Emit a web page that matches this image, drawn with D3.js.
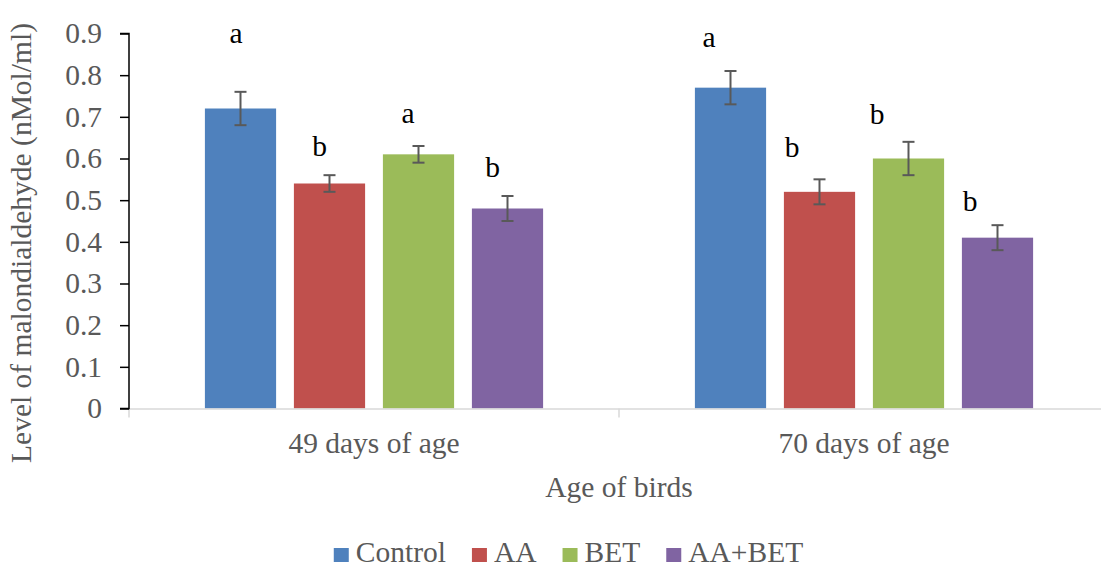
<!DOCTYPE html>
<html>
<head>
<meta charset="utf-8">
<script src="https://cdn.jsdelivr.net/npm/d3@7/dist/d3.min.js"></script>
<style>
  html, body { margin: 0; padding: 0; background: #ffffff; }
  svg { display: block; }
  svg text { font-family: "Liberation Serif", "Times New Roman", serif; }
</style>
</head>
<body>
<svg id="chart" width="1101" height="569"></svg>
<script>
// Malondialdehyde level by age and treatment
const groups = ["49 days of age", "70 days of age"];
const series = ["Control", "AA", "BET", "AA+BET"];
const colors = ["#4F81BD", "#C0504D", "#9BBB59", "#8064A2"];

// mean values per series, one entry per age group
const controlValues = [0.72, 0.77];
const aaValues      = [0.54, 0.52];
const betValues     = [0.61, 0.60];
const aaBetValues   = [0.48, 0.41];

// error bar half-widths
const controlErr = [0.04, 0.04];
const aaErr      = [0.02, 0.03];
const betErr     = [0.02, 0.04];
const aaBetErr   = [0.03, 0.03];

// significance letters
const controlLetters = ["a", "a"];
const aaLetters      = ["b", "b"];
const betLetters     = ["a", "b"];
const aaBetLetters   = ["b", "b"];

const yTicks = [0, 0.1, 0.2, 0.3, 0.4, 0.5, 0.6, 0.7, 0.8, 0.9];
const yTitle = "Level of malondialdehyde (nMol/ml)";
const xTitle = "Age of birds";

const valuesBySeries  = [controlValues, aaValues, betValues, aaBetValues];
const errBySeries     = [controlErr, aaErr, betErr, aaBetErr];
const lettersBySeries = [controlLetters, aaLetters, betLetters, aaBetLetters];

const rows = [];
groups.forEach((g, gi) => {
  series.forEach((s, si) => {
    rows.push({
      group: g, series: s, gi, si,
      value: valuesBySeries[si][gi],
      err: errBySeries[si][gi],
      letter: lettersBySeries[si][gi]
    });
  });
});

// hand placement of letters: [dx from bar centre, dy above error bar top]
const letterNudge = [
  [[-4.5, -49], [-10, -19], [-10.5, -23], [-15, -19]],
  [[-21.5, -24], [-27.5, -22], [-31.5, -18], [-27.5, -14]]
];

const svg = d3.select("#chart");
const plotLeft = 129, plotRight = 1109, plotTop = 33.5, plotBottom = 408.5;
const textGray = "#595959";
const fontSize = 29.5;

const x0 = d3.scaleBand().domain(groups).range([plotLeft, plotRight]).padding(0);
const x1 = d3.scaleBand().domain(series).range([-178, 178]).paddingInner(0.2).paddingOuter(0.1);
const y = d3.scaleLinear().domain([0, 0.9]).range([plotBottom, plotTop]);
const color = d3.scaleOrdinal().domain(series).range(colors);

const barX = d => x0(d.group) + x0.bandwidth() / 2 + x1(d.series);
const barCx = d => barX(d) + x1.bandwidth() / 2;

// bars
svg.append("g").selectAll("rect")
  .data(rows).join("rect")
  .attr("x", barX)
  .attr("y", d => y(d.value))
  .attr("width", x1.bandwidth())
  .attr("height", d => y(0) - y(d.value))
  .attr("fill", d => color(d.series));

// x axis baseline and category dividers
const xAxis = svg.append("g");
xAxis.append("line")
  .attr("x1", plotLeft).attr("x2", plotRight)
  .attr("y1", plotBottom + 0.5).attr("y2", plotBottom + 0.5)
  .attr("stroke", "#d9d9d9").attr("stroke-width", 1.5);
const dividers = groups.map(g => x0(g)).concat([x0(groups[groups.length - 1]) + x0.bandwidth()]);
xAxis.selectAll("line.div").data(dividers).join("line")
  .attr("class", "div")
  .attr("x1", d => d).attr("x2", d => d)
  .attr("y1", plotBottom).attr("y2", plotBottom + 9)
  .attr("stroke", "#d9d9d9").attr("stroke-width", 1.5);
xAxis.selectAll("text").data(groups).join("text")
  .attr("x", d => x0(d) + x0.bandwidth() / 2)
  .attr("y", 453)
  .attr("text-anchor", "middle")
  .attr("fill", textGray)
  .attr("font-size", fontSize)
  .text(d => d);

// y axis
const yAxis = svg.append("g")
  .attr("transform", `translate(${plotLeft},0)`)
  .call(d3.axisLeft(y).tickValues(yTicks).tickSize(9).tickPadding(18)
    .tickFormat(d => d === 0 ? "0" : d3.format(".1f")(d)));
yAxis.attr("font-family", null).attr("font-size", null);
yAxis.select(".domain").attr("stroke", "#000").attr("stroke-width", 1.5)
  .attr("d", `M-9,${plotTop}H0V${plotBottom}H-9`);
yAxis.selectAll(".tick line").attr("stroke", "#000").attr("stroke-width", 1.5);
yAxis.selectAll(".tick text")
  .attr("fill", textGray)
  .attr("font-size", fontSize);

// error bars
const errG = svg.append("g").attr("stroke", "#595959").attr("stroke-width", 2);
rows.forEach(d => {
  const cx = barCx(d), top = y(d.value + d.err), bot = y(d.value - d.err);
  errG.append("line").attr("x1", cx).attr("x2", cx).attr("y1", top).attr("y2", bot);
  errG.append("line").attr("x1", cx - 6).attr("x2", cx + 6).attr("y1", top).attr("y2", top);
  errG.append("line").attr("x1", cx - 6).attr("x2", cx + 6).attr("y1", bot).attr("y2", bot);
});

// significance letters
svg.append("g").selectAll("text")
  .data(rows).join("text")
  .attr("x", d => barCx(d) + letterNudge[d.gi][d.si][0])
  .attr("y", d => y(d.value + d.err) + letterNudge[d.gi][d.si][1])
  .attr("text-anchor", "middle")
  .attr("fill", "#000")
  .attr("font-size", fontSize)
  .text(d => d.letter);

// axis titles
svg.append("text")
  .attr("transform", `translate(31,243) rotate(-90)`)
  .attr("text-anchor", "middle")
  .attr("fill", textGray)
  .attr("font-size", fontSize)
  .text(yTitle);
svg.append("text")
  .attr("x", 619).attr("y", 497)
  .attr("text-anchor", "middle")
  .attr("fill", textGray)
  .attr("font-size", fontSize)
  .text(xTitle);

// legend
const legend = svg.append("g");
const items = legend.selectAll("g").data(series).join("g");
items.append("rect").attr("width", 15).attr("height", 14).attr("y", -14)
  .attr("fill", d => color(d));
items.append("text").attr("x", 22).attr("y", 0)
  .attr("fill", textGray).attr("font-size", fontSize).text(d => d);
let cursor = 0;
const offsets = [];
items.each(function () {
  offsets.push(cursor);
  const w = d3.select(this).select("text").node().getComputedTextLength();
  cursor += 22 + w + 26;
});
const legendWidth = cursor - 26;
const legendStart = 568.5 - legendWidth / 2;
items.attr("transform", (d, i) => `translate(${legendStart + offsets[i]},562)`);
</script>
</body>
</html>
